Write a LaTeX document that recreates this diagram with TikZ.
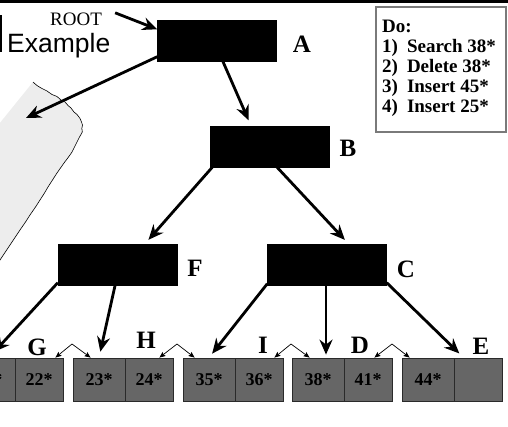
\documentclass[tikz,border=0pt]{standalone}
\usepackage{fontspec}
\setmainfont{Liberation Serif}
\setsansfont{Liberation Sans}
\usetikzlibrary{arrows.meta}
\definecolor{cellgray}{HTML}{666666}
\definecolor{cellline}{HTML}{2A2A2A}
\definecolor{paper}{HTML}{EDEDED}
\definecolor{boxline}{HTML}{7A7A7A}
\begin{document}
\begin{tikzpicture}[x=1pt,y=-1pt,
  innernode/.style={fill=black,draw=black,minimum width=119pt,minimum height=41pt,inner sep=0pt},
  leafcell/.style={fill=cellgray,draw=cellline,line width=0.8pt,minimum height=43pt,inner sep=0pt,
    font=\fontsize{18}{18}\selectfont\bfseries},
  lbl/.style={inner sep=0pt,font=\fontsize{25}{25}\selectfont\bfseries},
  bigarrow/.style={line width=2.8pt,-{Stealth[length=15pt,width=13pt,inset=5pt]}},
  sib/.style={line width=0.7pt,{Stealth[length=6pt,width=5pt,inset=1pt]}-{Stealth[length=6pt,width=5pt,inset=1pt]}},
  dobox/.style={draw=boxline,line width=1.2pt,inner sep=0pt}]
\useasboundingbox (0,0) rectangle (508,426);
\clip (0,0) rectangle (508,426);

% top rule and left edge mark
\fill[black] (0,0) rectangle (508,2.8);
\draw[line width=1.5pt] (0.8,15) -- (0.8,52);

% page-like shape on the left, with a hand-drawn right edge
\def\pageedge{(33,82) (37,85.5) (42,88.5) (47,91) (52,94.5) (57,96.5) (61,100) (65,102) (68,105.5) (71,108) (74,112) (77,114.5) (80,118.5) (81.5,122) (82.5,125) (81.8,128.5) (82.3,132) (79.5,137) (77,142) (74.5,147) (72,152) (68.5,157) (64,163) (60.5,168) (57,173) (52.5,180) (48,187) (44.5,193) (40,200) (35.5,207) (30,215) (25.5,222) (20,230) (15,237.5) (10,245) (5,252.5) (0,260) (-5,268)}
\fill[paper] plot[smooth,tension=0.4] coordinates {\pageedge} -- (-5,129) -- cycle;
\draw[line width=0.6pt] plot[smooth,tension=0.4] coordinates {\pageedge};
\coordinate (pg) at (26,118);

% titles
\node[anchor=base west,inner sep=0pt,font=\sffamily\fontsize{26.5}{26.5}\selectfont] (ex) at (7,52) {Example};
\node[anchor=base west,inner sep=0pt,font=\fontsize{19}{19}\selectfont] (root) at (50,25) {ROOT};

% index nodes
\node[innernode] (A) at (217,41) {};
\node[innernode] (B) at (270,146.5) {};
\node[innernode] (F) at (117.5,265) {};
\node[innernode] (C) at (327,265) {};
\node[lbl] (lA) at (302,44) {A};
\node[lbl] (lB) at (348,148) {B};
\node[lbl] (lF) at (195,268) {F};
\node[lbl] (lC) at (406,269) {C};

% leaves
\node[leafcell,minimum width=52pt] (l1a) at (-11,379.5) {20*};
\node[leafcell,minimum width=48pt] (l1b) at (39,379.5) {22*};
\node[leafcell,minimum width=52pt] (l2a) at (99,379.5) {23*};
\node[leafcell,minimum width=48pt] (l2b) at (149,379.5) {24*};
\node[leafcell,minimum width=52pt] (l3a) at (209,379.5) {35*};
\node[leafcell,minimum width=48pt] (l3b) at (259,379.5) {36*};
\node[leafcell,minimum width=52pt] (l4a) at (318,379.5) {38*};
\node[leafcell,minimum width=48pt] (l4b) at (368,379.5) {41*};
\node[leafcell,minimum width=52pt] (l5a) at (428,379.5) {44*};
\node[leafcell,minimum width=48pt] (l5b) at (478,379.5) {};
\node[lbl] (lG) at (37,347) {G};
\node[lbl] (lH) at (146,340) {H};
\node[lbl] (lI) at (263,345) {I};
\node[lbl] (lD) at (360,345) {D};
\node[lbl] (lE) at (481,346) {E};

% task list
\node[dobox,minimum width=130pt,minimum height=125pt] (todo) at (441,69.5) {};
\node[anchor=base west,inner sep=0pt,font=\fontsize{19}{20}\selectfont\bfseries] (todolist) at (382,32)
  {\begin{tabular}[t]{@{}l@{\hspace{9pt}}l@{}}
   \multicolumn{2}{@{}l@{}}{Do:}\\
   1) & Search 38*\\
   2) & Delete 38*\\
   3) & Insert 45*\\
   4) & Insert 25*
   \end{tabular}};

% tree pointers
\draw[bigarrow] ([xshift=13pt,yshift=6pt]root.east) -- ([yshift=-9pt]A.north west);
\draw[bigarrow] ([yshift=5pt]A.south west) -- (pg);
\draw[bigarrow,shorten >=6pt] ([xshift=6pt]A.south) -- ([xshift=-19pt]B.north);
\draw[bigarrow,shorten >=6pt] ([xshift=2pt]B.south west) -- ([xshift=27pt]F.north);
\draw[bigarrow,shorten >=6pt] ([xshift=7pt]B.south) -- ([xshift=22pt]C.north);
\draw[bigarrow,shorten >=8pt] ([yshift=3pt]F.south west) -- (l1a.north);
\draw[bigarrow,shorten >=6pt] ([xshift=-2.5pt]F.south) -- (l2a.north);
\draw[bigarrow,shorten >=5pt] ([yshift=2pt]C.south west) -- (l3a.north);
\draw[bigarrow,shorten >=3pt] ([xshift=-1pt]C.south) -- ([xshift=8pt]l4a.north);
\draw[bigarrow,shorten >=6pt] ([yshift=3pt]C.south east) -- ([xshift=10pt]l5b.north west);

% sibling links between leaves
\coordinate (s12) at (72,344);
\coordinate (s23) at (177,344);
\coordinate (s34) at (291,344);
\coordinate (s45) at (392,344);
\draw[sib] ([xshift=-8pt]l1b.north east) -- (s12) -- ([xshift=18pt]l2a.north west);
\draw[sib] ([xshift=-14pt]l2b.north east) -- (s23) -- ([xshift=12pt]l3a.north west);
\draw[sib] ([xshift=-9pt]l3b.north east) -- (s34) -- ([xshift=18pt]l4a.north west);
\draw[sib] ([xshift=-18pt]l4b.north east) -- (s45) -- ([xshift=8pt]l5a.north west);
\end{tikzpicture}
\end{document}
